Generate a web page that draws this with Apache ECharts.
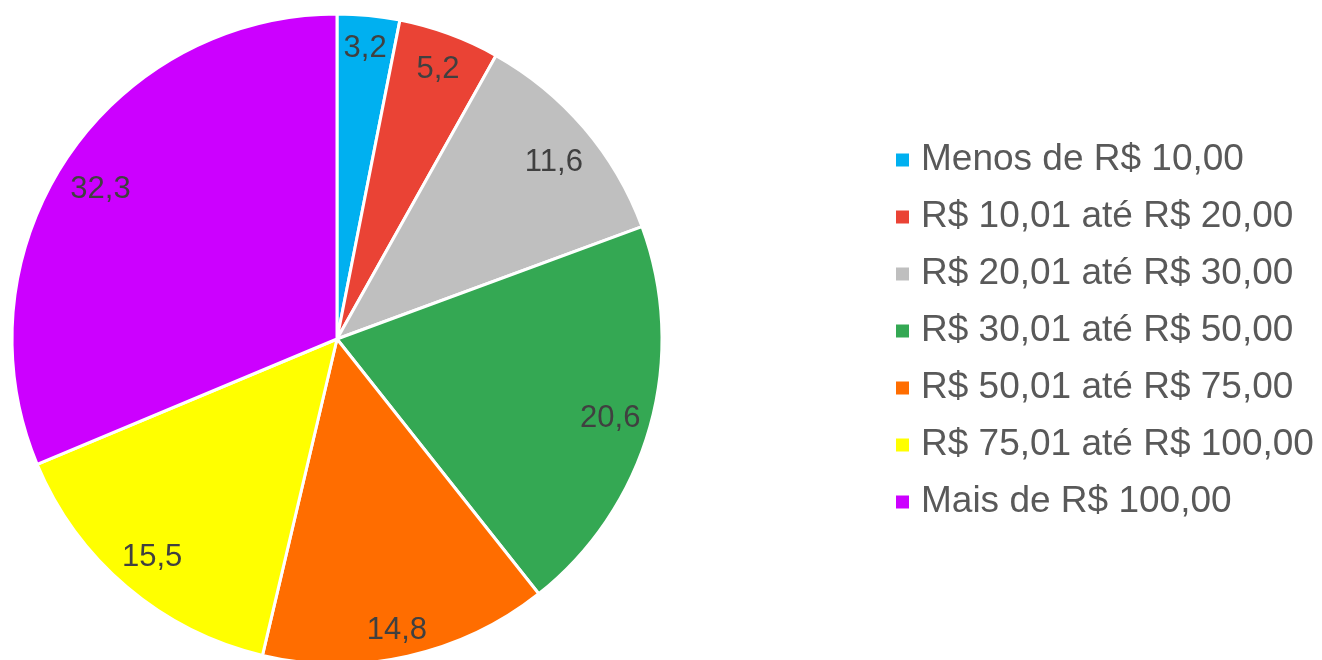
<!DOCTYPE html>
<html>
<head>
<meta charset="utf-8">
<script src="https://cdn.jsdelivr.net/npm/echarts@6/dist/echarts.min.js"></script>
<style>
  html, body { margin: 0; padding: 0; background: #ffffff; }
  #chart { width: 1322px; height: 660px; }
</style>
</head>
<body>
<div id="chart"></div>
<script>
// Faixas de preço e participação (%)
const categories = [
  'Menos de R$ 10,00',
  'R$ 10,01 até R$ 20,00',
  'R$ 20,01 até R$ 30,00',
  'R$ 30,01 até R$ 50,00',
  'R$ 50,01 até R$ 75,00',
  'R$ 75,01 até R$ 100,00',
  'Mais de R$ 100,00'
];
const values = [3.2, 5.2, 11.6, 20.6, 14.8, 15.5, 32.3];
const colors = ['#00b0f0', '#ea4335', '#bfbfbf', '#34a853', '#ff6d00', '#ffff00', '#cc00ff'];

const FONT = '"Liberation Sans", Arial, sans-serif';
// small nudges so labels sit where Excel put them
const nudges = [[0, -3], [1, 2], [-3, 11], [-5, 1], [-3, 9], [2, -2], [4, 11]];

const data = categories.map((name, i) => ({ name, value: values[i] }));
const labelData = categories.map((name, i) => ({
  name, value: values[i], label: { offset: nudges[i] }
}));

const chart = echarts.init(document.getElementById('chart'));
chart.setOption({
  animation: false,
  backgroundColor: '#ffffff',
  color: colors,
  legend: {
    orient: 'vertical',
    left: 894,
    top: 140,
    padding: 0,
    itemWidth: 15,
    itemHeight: 15,
    itemGap: 17,
    icon: 'rect',
    textStyle: { fontFamily: FONT, fontSize: 37, color: '#595959', lineHeight: 40, padding: [0, 0, 0, 6] },
    data: categories
  },
  series: [
    {
      // the pie itself
      type: 'pie',
      center: [337, 339],
      radius: 325,
      startAngle: 90,
      clockwise: true,
      silent: true,
      itemStyle: { borderColor: '#ffffff', borderWidth: 3 },
      label: { show: false },
      labelLine: { show: false },
      data: data
    },
    {
      // transparent ring, only to place labels near the outer edge
      type: 'pie',
      center: [337, 339],
      radius: [247, 325],
      startAngle: 90,
      clockwise: true,
      silent: true,
      itemStyle: { color: 'rgba(0,0,0,0)', borderWidth: 0 },
      label: {
        show: true,
        position: 'inside',
        fontFamily: FONT,
        fontSize: 31,
        color: '#404040',
        formatter: p => p.value.toFixed(1).replace('.', ',')
      },
      labelLine: { show: false },
      data: labelData
    }
  ]
});
</script>
</body>
</html>
